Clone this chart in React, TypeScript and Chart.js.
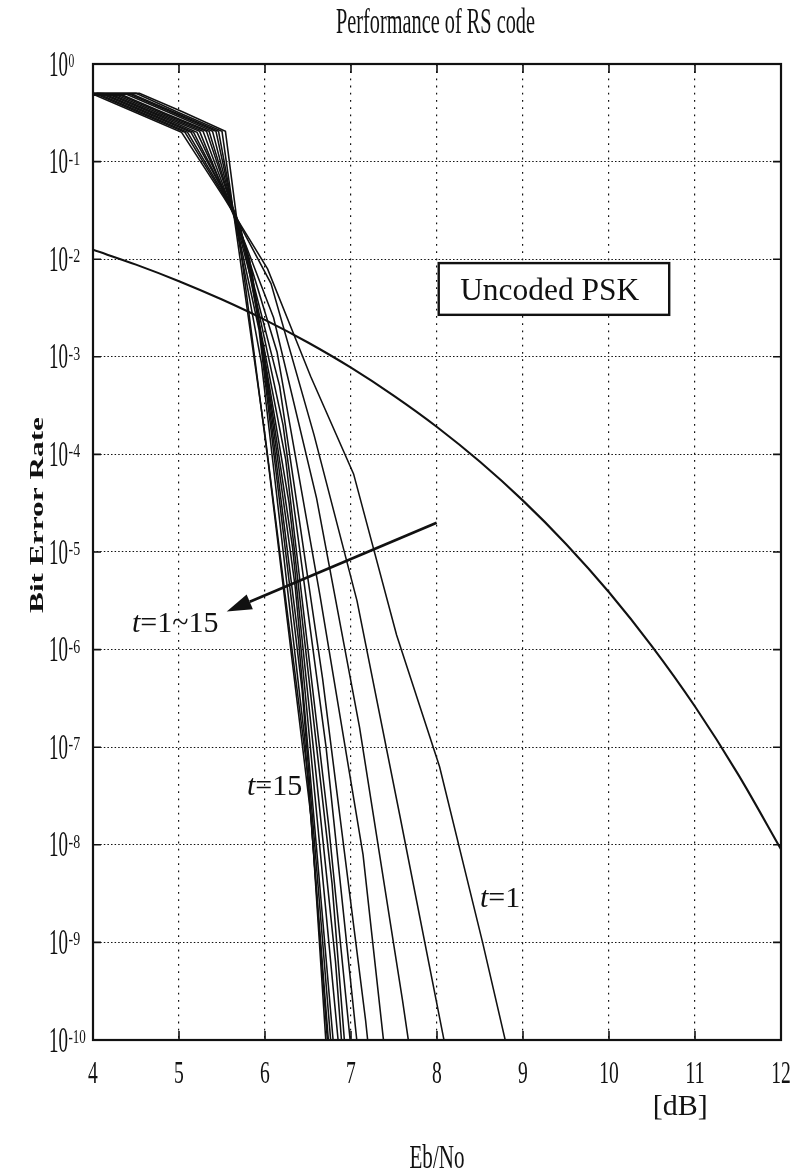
import React, { useEffect, useRef } from "react";
import { Chart, registerables } from "chart.js";

Chart.register(...registerables);

// ---------- data ----------
const xTickValues = [4, 5, 6, 7, 8, 9, 10, 11, 12];
const xTickLabels = ["4", "5", "6", "7", "8", "9", "10", "11", "12"];
const yExponents = [0, -1, -2, -3, -4, -5, -6, -7, -8, -9, -10];
const yTickLabels = ["0", "-1", "-2", "-3", "-4", "-5", "-6", "-7", "-8", "-9", "-10"];

// Uncoded PSK curve
const pskEbNo = [4, 4.5, 5, 5.5, 6, 6.5, 7, 7.5, 8, 8.5, 9, 9.5, 10, 10.5, 11, 11.5, 12];
const pskBer = [1.25e-2, 8.8e-3, 5.95e-3, 3.86e-3, 2.39e-3, 1.4e-3, 7.73e-4, 3.98e-4, 1.91e-4, 8.4e-5, 3.36e-5, 1.21e-5, 3.87e-6, 1.08e-6, 2.61e-7, 5.3e-8, 9.0e-9];

// RS curves t = 1..15 : sample grid (dB) plus per-curve rate shift (dB)
const rsGridDb = [3.5, 4, 4.5, 5, 5.5, 6, 6.5, 7, 7.5, 8, 8.5, 9];
const rsShiftDb = [0.03, 0.07, 0.1, 0.14, 0.17, 0.21, 0.24, 0.28, 0.32, 0.35, 0.39, 0.43, 0.46, 0.5, 0.54];

// log10(BER) at each grid point, per t
const rsLogBerT1 = [-0.301, -0.32, -0.51, -0.7, -1.38, -2.1, -3.2, -4.2, -5.85, -7.2, -9.0, -10.9];
const rsLogBerT2 = [-0.301, -0.32, -0.51, -0.7, -1.42, -2.25, -3.8, -5.5, -7.71, -9.95, -12.2];
const rsLogBerT3 = [-0.301, -0.32, -0.51, -0.7, -1.45, -2.6, -4.45, -6.8, -9.6, -12.6];
const rsLogBerT4 = [-0.301, -0.32, -0.51, -0.7, -1.5, -2.95, -5.45, -8.1, -12.1];
const rsLogBerT5 = [-0.301, -0.32, -0.51, -0.7, -1.57, -3.3, -6.3, -9.8, -14.0];
const rsLogBerT6 = [-0.301, -0.32, -0.51, -0.7, -1.65, -3.7, -7.0, -11.2];
const rsLogBerT7 = [-0.301, -0.32, -0.51, -0.69, -1.78, -4.05, -7.8, -12.2];
const rsLogBerT8 = [-0.301, -0.32, -0.51, -0.69, -1.88, -4.5, -8.4, -14.0];
const rsLogBerT9 = [-0.301, -0.32, -0.51, -0.69, -2.0, -4.95, -9.2, -15.0];
const rsLogBerT10 = [-0.301, -0.32, -0.51, -0.69, -2.14, -5.35, -10.0, -16.0];
const rsLogBerT11 = [-0.301, -0.31, -0.5, -0.69, -2.38, -5.9, -11.0];
const rsLogBerT12 = [-0.301, -0.31, -0.5, -0.69, -2.72, -6.4, -11.8];
const rsLogBerT13 = [-0.301, -0.31, -0.5, -0.69, -3.07, -6.9, -12.5];
const rsLogBerT14 = [-0.301, -0.3, -0.5, -0.69, -3.8, -7.3, -13.3];
const rsLogBerT15 = [-0.301, -0.3, -0.49, -0.69, -4.1, -7.75, -14.5];
const rsLogBer = [
  rsLogBerT1, rsLogBerT2, rsLogBerT3, rsLogBerT4, rsLogBerT5,
  rsLogBerT6, rsLogBerT7, rsLogBerT8, rsLogBerT9, rsLogBerT10,
  rsLogBerT11, rsLogBerT12, rsLogBerT13, rsLogBerT14, rsLogBerT15,
];

// annotations (data coords: dB, log10 BER)
const arrowTail = [7.996, -4.7];
const arrowTip = [5.555, -5.61];
const labelRange = [4.453, -5.82];
const labelT15 = [5.79, -7.49];
const labelT1 = [8.5, -8.64];
const boxCorners = [8.02, -2.04, 10.7, -2.57];
const boxText = [9.31, -2.42];
const unitPos = 10.51;

const FONT = '"Liberation Serif", "Times New Roman", serif';

function fitText(ctx: any, text: string, x: number, y: number, font: string, width: number | null, align: string) {
  ctx.save();
  ctx.font = font;
  const w = ctx.measureText(text).width;
  const sx = width ? width / w : 1;
  ctx.translate(x, y);
  ctx.scale(sx, 1);
  ctx.textAlign = align;
  ctx.textBaseline = "alphabetic";
  ctx.fillText(text, 0, 0);
  ctx.restore();
}

function richText(ctx: any, parts: { t: string; i: boolean }[], x: number, y: number, size: number) {
  ctx.save();
  ctx.textAlign = "left";
  ctx.textBaseline = "alphabetic";
  let cx = x;
  for (const p of parts) {
    ctx.font = `${p.i ? "italic " : ""}${size}px ${FONT}`;
    ctx.fillText(p.t, cx, y);
    cx += ctx.measureText(p.t).width;
  }
  ctx.restore();
}

const decorPlugin = {
  id: "decor",
  afterDraw(chart: any) {
    const { ctx, chartArea: a, scales } = chart;
    const xs = scales.x;
    const ys = scales.y;
    const px = (v: number) => xs.getPixelForValue(v);
    const py = (e: number) => ys.getPixelForValue(Math.pow(10, e));
    ctx.save();
    ctx.strokeStyle = "#111";
    ctx.fillStyle = "#111";

    // tick marks
    ctx.lineWidth = 1.6;
    ctx.beginPath();
    xTickValues.forEach((v) => {
      const x = px(v);
      ctx.moveTo(x, a.bottom);
      ctx.lineTo(x, a.bottom - 9);
      ctx.moveTo(x, a.top);
      ctx.lineTo(x, a.top + 9);
    });
    yExponents.forEach((e) => {
      const y = py(e);
      ctx.moveTo(a.left, y);
      ctx.lineTo(a.left + 8, y);
      ctx.moveTo(a.right, y);
      ctx.lineTo(a.right - 8, y);
    });
    ctx.stroke();

    // frame
    ctx.lineWidth = 2.2;
    ctx.strokeRect(a.left, a.top, a.right - a.left, a.bottom - a.top);

    // x tick labels
    xTickValues.forEach((v, i) => {
      const lbl = xTickLabels[i];
      fitText(ctx, lbl, px(v), a.bottom + 43, `31px ${FONT}`, 9.8 * lbl.length, "center");
    });

    // y tick labels 10^e
    yExponents.forEach((e, i) => {
      const y = py(e);
      fitText(ctx, "10", 49, y + 11.5, `35px ${FONT}`, 19, "left");
      fitText(ctx, yTickLabels[i], 68.5, y + 3, `19px ${FONT}`, yTickLabels[i].length * 5.8, "left");
    });

    // title
    fitText(ctx, "Performance of RS code", 435.5, 33, `36px ${FONT}`, 199, "center");

    // x axis texts
    fitText(ctx, "[dB]", px(unitPos), a.bottom + 75, `29px ${FONT}`, 55, "left");
    fitText(ctx, "Eb/No", (a.left + a.right) / 2, a.bottom + 128, `33px ${FONT}`, 55, "center");

    // y axis title (rotated)
    ctx.save();
    ctx.translate(43, 515);
    ctx.rotate(-Math.PI / 2);
    ctx.font = `bold 18px ${FONT}`;
    const w = ctx.measureText("Bit Error Rate").width;
    ctx.scale(196 / w, 1);
    ctx.textAlign = "center";
    ctx.textBaseline = "alphabetic";
    ctx.fillText("Bit Error Rate", 0, 0);
    ctx.restore();

    // legend-like box
    const bx0 = px(boxCorners[0]);
    const by0 = py(boxCorners[1]);
    const bx1 = px(boxCorners[2]);
    const by1 = py(boxCorners[3]);
    ctx.fillStyle = "#fff";
    ctx.fillRect(bx0, by0, bx1 - bx0, by1 - by0);
    ctx.fillStyle = "#111";
    ctx.lineWidth = 2.4;
    ctx.strokeRect(bx0, by0, bx1 - bx0, by1 - by0);
    fitText(ctx, "Uncoded PSK", px(boxText[0]), py(boxText[1]), `31px ${FONT}`, 179, "center");

    // arrow
    const tx = px(arrowTail[0]);
    const ty = py(arrowTail[1]);
    const hx = px(arrowTip[0]);
    const hy = py(arrowTip[1]);
    const ang = Math.atan2(hy - ty, hx - tx);
    const L = 25;
    const W = 8;
    const cx = hx - L * Math.cos(ang);
    const cy = hy - L * Math.sin(ang);
    ctx.lineWidth = 2.8;
    ctx.beginPath();
    ctx.moveTo(tx, ty);
    ctx.lineTo(cx, cy);
    ctx.stroke();
    ctx.beginPath();
    ctx.moveTo(hx, hy);
    ctx.lineTo(cx - W * Math.sin(ang), cy + W * Math.cos(ang));
    ctx.lineTo(cx + W * Math.sin(ang), cy - W * Math.cos(ang));
    ctx.closePath();
    ctx.fill();

    // t labels
    richText(ctx, [{ t: "t", i: true }, { t: "=1~15", i: false }], px(labelRange[0]), py(labelRange[1]), 30);
    richText(ctx, [{ t: "t", i: true }, { t: "=15", i: false }], px(labelT15[0]), py(labelT15[1]), 30);
    richText(ctx, [{ t: "t", i: true }, { t: "=1", i: false }], px(labelT1[0]), py(labelT1[1]), 30);

    ctx.restore();
  },
};

export default function App() {
  const canvasRef = useRef<HTMLCanvasElement | null>(null);

  useEffect(() => {
    document.body.style.margin = "0";
    const canvas = canvasRef.current;
    if (!canvas) return;

    const rsDatasets = rsLogBer.map((vals, ti) => ({
      label: `t=${ti + 1}`,
      data: vals.map((lv, k) => ({ x: rsGridDb[k] + rsShiftDb[ti], y: Math.pow(10, lv) })),
      borderColor: "#111",
      borderWidth: 1.55,
      pointRadius: 0,
      fill: false,
      tension: 0,
    }));

    const pskDataset = {
      label: "Uncoded PSK",
      data: pskEbNo.map((x, i) => ({ x, y: pskBer[i] })),
      borderColor: "#111",
      borderWidth: 2.1,
      pointRadius: 0,
      fill: false,
      cubicInterpolationMode: "monotone" as const,
    };

    const chart = new Chart(canvas, {
      type: "line",
      data: { datasets: [...rsDatasets, pskDataset] as any },
      options: {
        animation: false,
        responsive: false,
        devicePixelRatio: 1,
        layout: { padding: { left: 93, top: 64, right: 14, bottom: 133 } },
        plugins: {
          legend: { display: false },
          title: { display: false },
          tooltip: { enabled: false },
        },
        scales: {
          x: {
            type: "linear",
            min: 4,
            max: 12,
            ticks: { display: false, stepSize: 1 },
            grid: { color: "#111", lineWidth: 1.2, drawTicks: false },
            border: { display: false, dash: [1.8, 5.4] },
            afterFit: (s: any) => {
              s.height = 0;
            },
          },
          y: {
            type: "logarithmic",
            min: 1e-10,
            max: 1,
            ticks: { display: false },
            grid: { color: "#111", lineWidth: 1.1, drawTicks: false },
            border: { display: false, dash: [1.5, 2.1] },
            afterBuildTicks: (s: any) => {
              s.ticks = yExponents.map((e) => ({ value: Math.pow(10, e) }));
            },
            afterFit: (s: any) => {
              s.width = 0;
            },
          },
        },
      } as any,
      plugins: [decorPlugin],
    });

    return () => chart.destroy();
  }, []);

  return (
    <div style={{ width: 795, height: 1173, background: "#fff" }}>
      <canvas ref={canvasRef} width={795} height={1173} style={{ display: "block" }} />
    </div>
  );
}
